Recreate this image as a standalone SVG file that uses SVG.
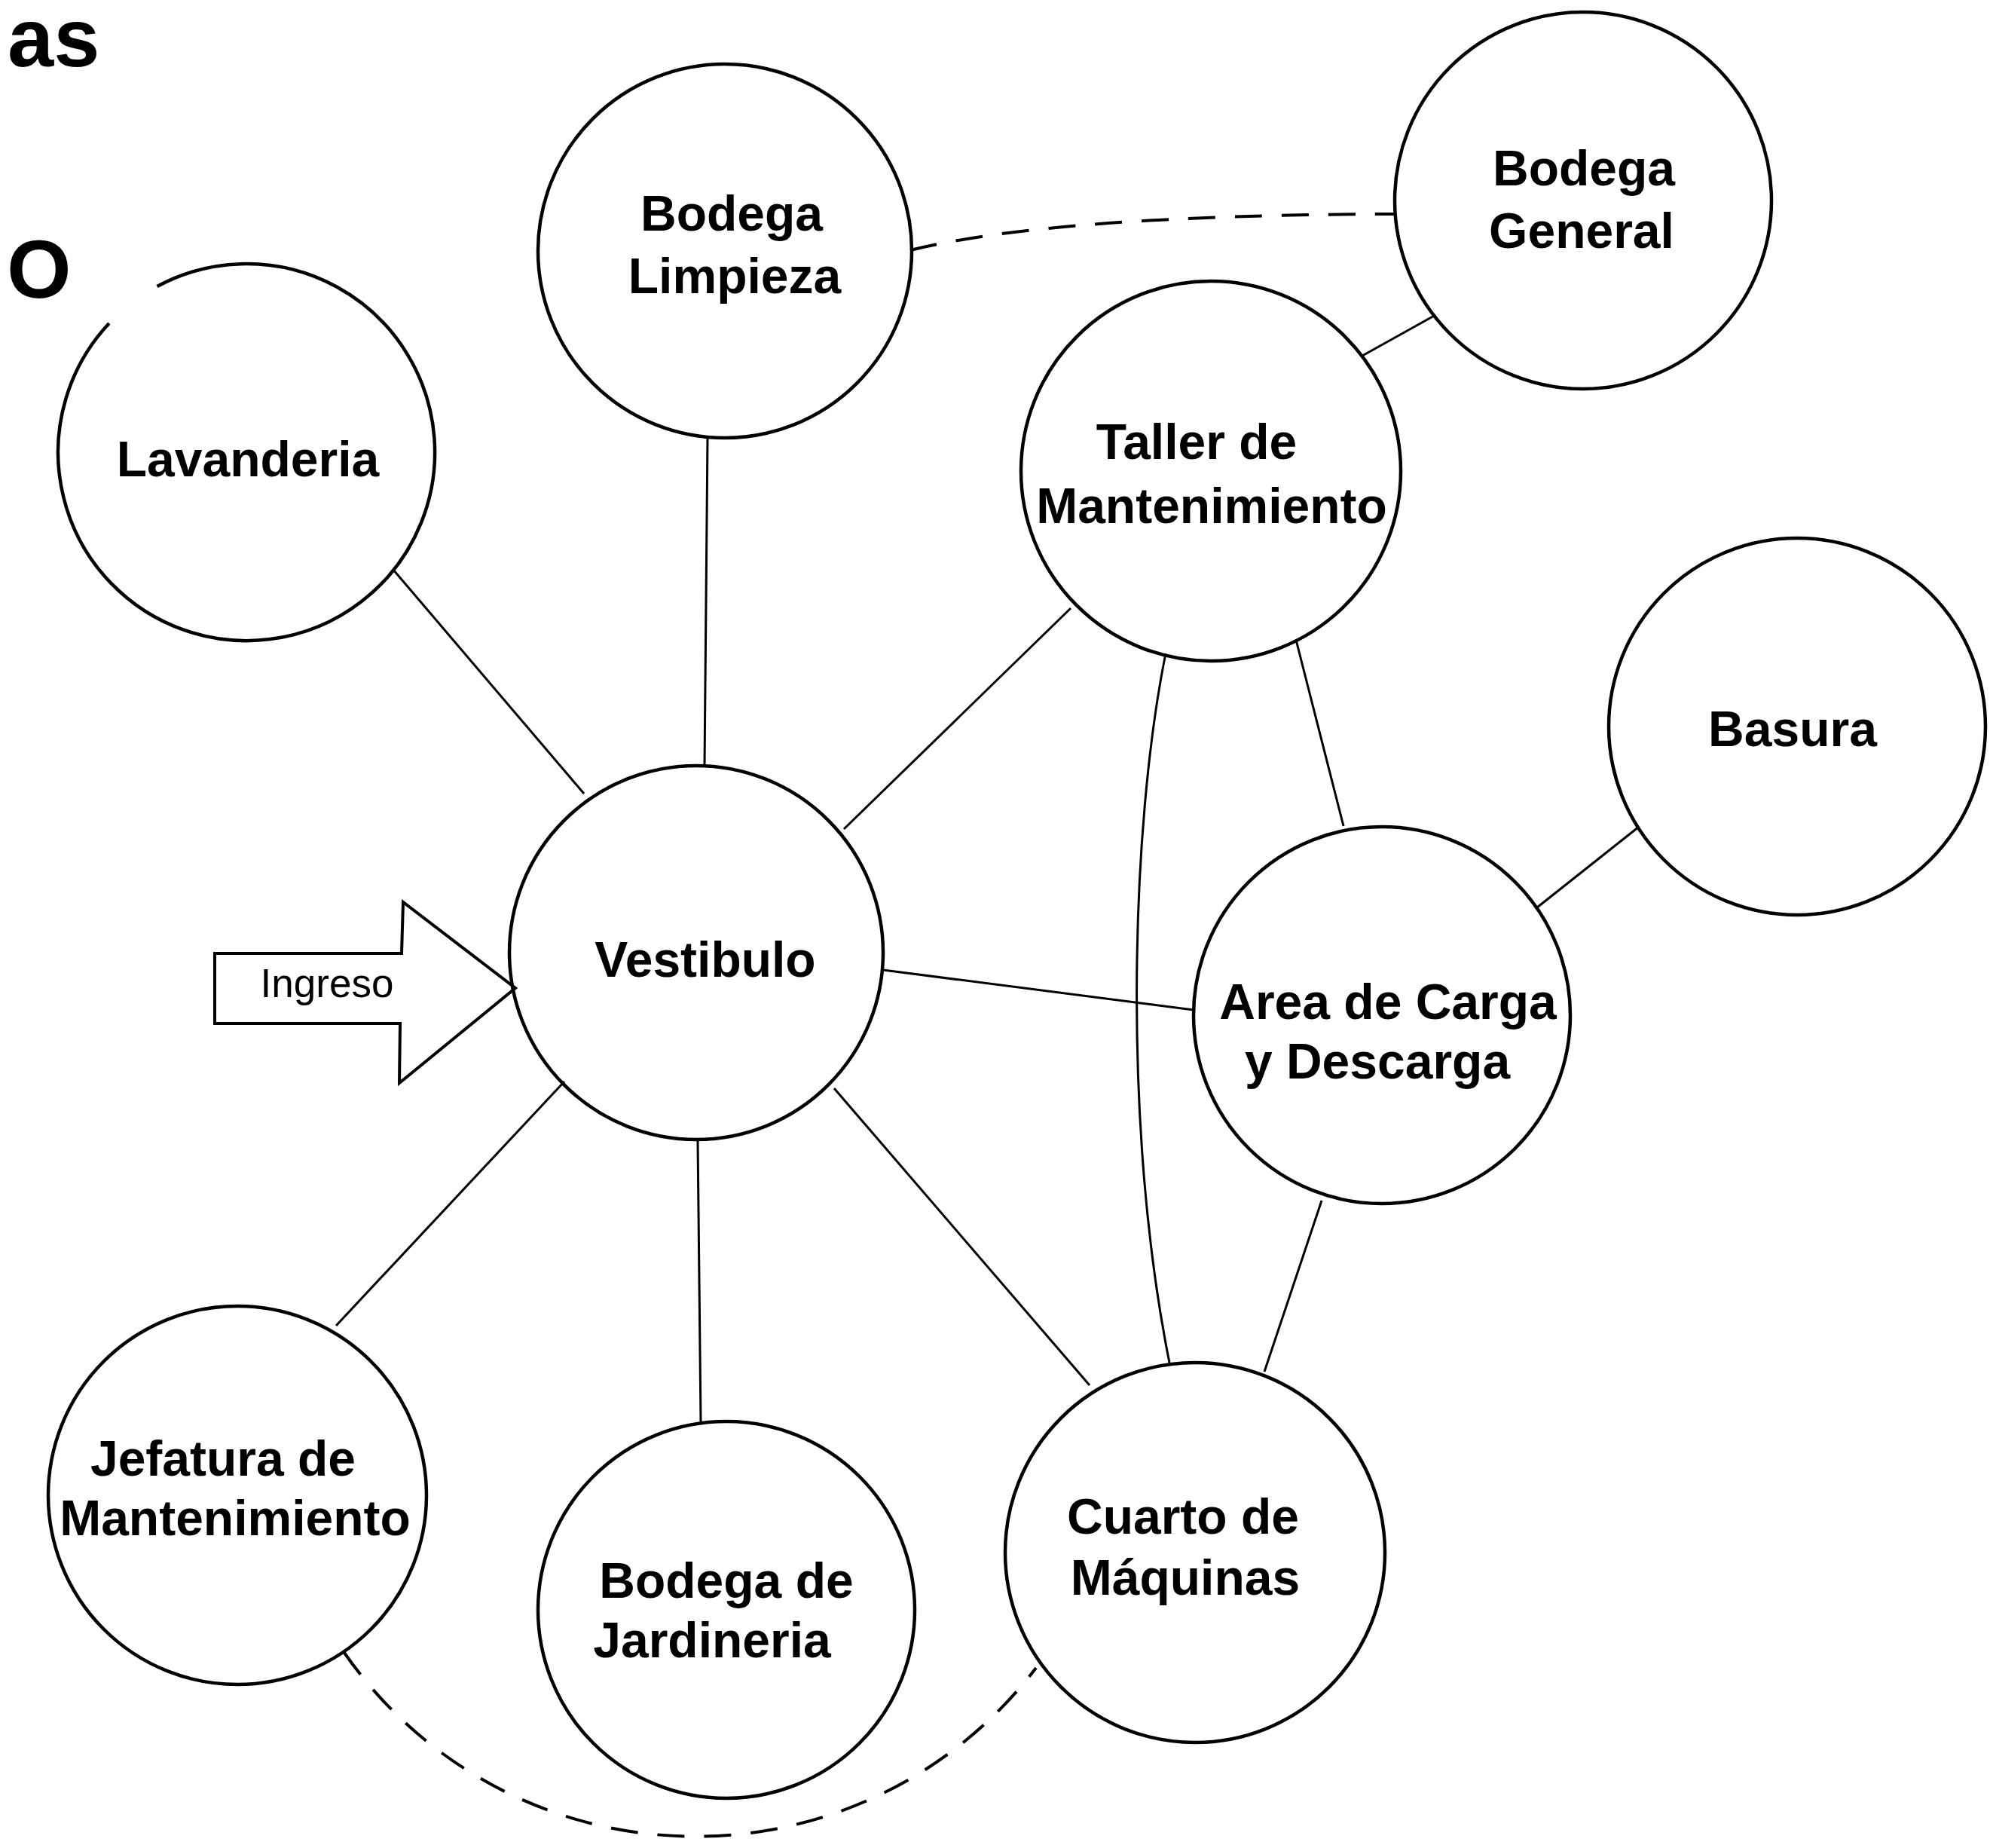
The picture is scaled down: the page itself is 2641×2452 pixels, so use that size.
<svg xmlns="http://www.w3.org/2000/svg" width="2641" height="2452" viewBox="0 0 2641 2452">
<style>
.bg{fill:#ffffff}
.node{fill:none;stroke:#000;stroke-width:4.5}
.lbl{font-family:"Liberation Sans",Arial,sans-serif;font-weight:bold;font-size:66px;fill:#000;text-anchor:middle}
.title{font-family:"Liberation Sans",Arial,sans-serif;font-weight:bold;font-size:110px;fill:#000}
.edge{fill:none;stroke:#000;stroke-width:3}
.dash{fill:none;stroke:#000;stroke-width:4;stroke-dasharray:36 26}
.arrow{fill:none;stroke:#000;stroke-width:4;stroke-linejoin:miter}
.ing{font-family:"Liberation Sans",Arial,sans-serif;font-size:53px;fill:#000;text-anchor:middle}
</style>
<rect class="bg" x="0" y="0" width="2641" height="2452"/>
<g id="title">
<text class="title" x="10" y="88" font-size="80">as</text>
<text class="title" x="9" y="395">O</text>
</g>
<g id="connectors">
<line class="edge" x1="522" y1="756" x2="775" y2="1053"/>
<line class="edge" x1="939" y1="581" x2="935" y2="1016"/>
<line class="edge" x1="1421" y1="807" x2="1120" y2="1100"/>
<line class="edge" x1="1172" y1="1287" x2="1584" y2="1340"/>
<line class="edge" x1="749" y1="1435" x2="446" y2="1759"/>
<line class="edge" x1="926" y1="1514" x2="930" y2="1886"/>
<line class="edge" x1="1107" y1="1444" x2="1446" y2="1838"/>
<line class="edge" x1="1808" y1="472" x2="1905" y2="418"/>
<line class="edge" x1="1720" y1="849" x2="1783" y2="1096"/>
<path class="edge" d="M 1547 867 C 1500 1100, 1490 1500, 1552 1808"/>
<line class="edge" x1="2040" y1="1204" x2="2175" y2="1097"/>
<line class="edge" x1="1754" y1="1593" x2="1678" y2="1820"/>
<path class="dash" d="M 1208 332 Q 1400 285 1852 284"/>
<path class="dash" d="M 457 2193 A 568 568 0 0 0 1375 2213"/>
</g>
<g id="ingreso">
<path class="arrow" d="M 285 1265 L 533 1265 L 535 1197 L 684 1311 L 530 1437 L 531 1358 L 285 1358 Z"/>
<text class="ing" x="434" y="1323">Ingreso</text>
</g>
<g id="bodega-limpieza">
<circle class="node" cx="962" cy="333" r="248"/>
<text class="lbl" x="971" y="306">Bodega</text>
<text class="lbl" x="975" y="389">Limpieza</text>
</g>
<g id="bodega-general">
<circle class="node" cx="2101" cy="266" r="250"/>
<text class="lbl" x="2102" y="246">Bodega</text>
<text class="lbl" x="2099" y="329">General</text>
</g>
<g id="lavanderia">
<path class="node" d="M 208.5 380 A 250 250 0 1 1 144.8 429"/>
<text class="lbl" x="329" y="632">Lavanderia</text>
</g>
<g id="taller">
<circle class="node" cx="1607" cy="625" r="252"/>
<text class="lbl" x="1588" y="609">Taller de</text>
<text class="lbl" x="1608" y="694">Mantenimiento</text>
</g>
<g id="basura">
<circle class="node" cx="2385" cy="964" r="250"/>
<text class="lbl" x="2379" y="990">Basura</text>
</g>
<g id="vestibulo">
<circle class="node" cx="924" cy="1264" r="248"/>
<text class="lbl" x="936" y="1296">Vestibulo</text>
</g>
<g id="area-carga">
<circle class="node" cx="1834" cy="1347" r="250"/>
<text class="lbl" x="1842" y="1352">Area de Carga</text>
<text class="lbl" x="1828" y="1431">y Descarga</text>
</g>
<g id="jefatura">
<circle class="node" cx="315" cy="1984" r="251"/>
<text class="lbl" x="296" y="1958">Jefatura de</text>
<text class="lbl" x="312" y="2037">Mantenimiento</text>
</g>
<g id="bodega-jardineria">
<circle class="node" cx="964" cy="2136" r="250"/>
<text class="lbl" x="964" y="2120">Bodega de</text>
<text class="lbl" x="945" y="2199">Jardineria</text>
</g>
<g id="cuarto-maquinas">
<circle class="node" cx="1586" cy="2060" r="252"/>
<text class="lbl" x="1570" y="2035">Cuarto de</text>
<text class="lbl" x="1573" y="2116">Máquinas</text>
</g>
</svg>
